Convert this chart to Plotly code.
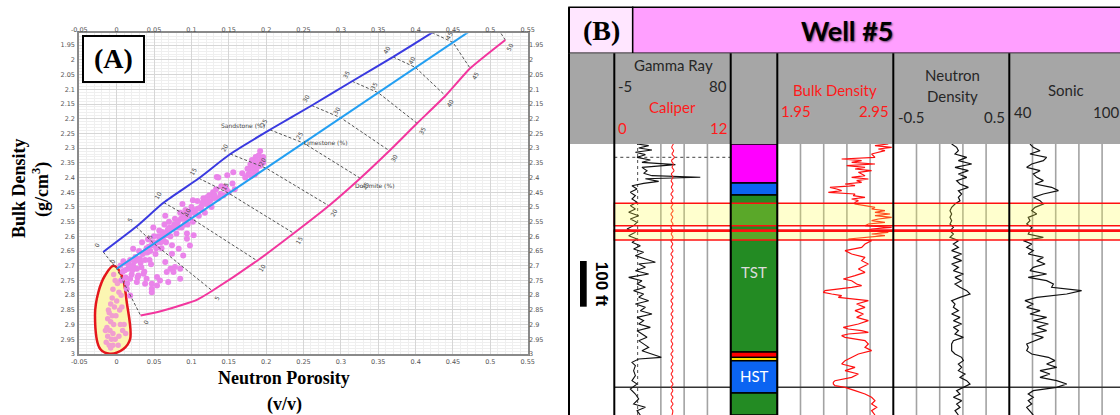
import plotly.graph_objects as go

W, H = 1120, 415


def px(x):
    return x / W


def py(y):
    return 1 - y / H


# ---------------- (A) neutron-density crossplot ----------------
porosity = [0, 5, 10, 15, 20, 25, 30, 35, 40, 45, 50]
sand_nphi = [-0.018, 0.026, 0.063, 0.110, 0.152, 0.205, 0.261, 0.315, 0.370, 0.422, 0.475]
sand_rhob = [2.653, 2.5675, 2.485, 2.4025, 2.32, 2.2375, 2.155, 2.0725, 1.99, 1.9075, 1.825]
lime_nphi = [0.0, 0.05, 0.10, 0.15, 0.20, 0.25, 0.30, 0.35, 0.40, 0.45, 0.50]
lime_rhob = [2.71, 2.6245, 2.539, 2.4535, 2.368, 2.2825, 2.197, 2.1115, 2.026, 1.9405, 1.855]
dolo_nphi = [0.032, 0.128, 0.188, 0.237, 0.284, 0.326, 0.365, 0.402, 0.440, 0.473, 0.520]
dolo_rhob = [2.869, 2.785, 2.683, 2.5895, 2.496, 2.4025, 2.309, 2.2155, 2.122, 2.0285, 1.932]
# low-porosity bend of the dolomite curve
dolo_bend_nphi = [0.055, 0.085, 0.108]
dolo_bend_rhob = [2.857, 2.835, 2.815]

cloud_nphi = [
    0.005, 0.008, 0.010, 0.012, 0.015, 0.018, 0.020, 0.022, 0.006, 0.014,
    0.025, 0.027, 0.030, 0.032, 0.035, 0.037, 0.040, 0.028, 0.034, 0.038,
    0.042, 0.045, 0.047, 0.050, 0.052, 0.055, 0.057, 0.060, 0.044, 0.058, 0.049,
    0.062, 0.064, 0.066, 0.068, 0.070, 0.072, 0.075, 0.078, 0.080, 0.065, 0.074,
    0.082, 0.085, 0.087, 0.090, 0.092, 0.095, 0.097, 0.100, 0.088, 0.094,
    0.102, 0.105, 0.108, 0.110, 0.113, 0.116, 0.118, 0.121, 0.124, 0.127, 0.130, 0.133,
    0.136, 0.140, 0.143, 0.147, 0.150, 0.155, 0.158,
    0.136, 0.148, 0.156, 0.168, 0.129, 0.121, 0.114, 0.102, 0.134, 0.145,
    0.178, 0.180, 0.182, 0.184, 0.186, 0.188, 0.190, 0.192, 0.185, 0.179,
    0.194, 0.190, 0.196, 0.183, 0.187, 0.176, 0.172, 0.196, 0.183, 0.192,
    0.018, 0.027, 0.038, 0.047, 0.054, 0.047, 0.067, 0.072, 0.076, 0.078,
    0.085, 0.069, 0.058, 0.054, 0.085, 0.036, 0.040, 0.029, 0.018, 0.0135,
    0.047, 0.065, 0.083, 0.094, 0.098, 0.103, 0.089, 0.074, 0.022,
    0.011, 0.016, 0.024, 0.031, 0.039, 0.043, 0.051, 0.056, 0.061, 0.067,
    0.071, 0.077, 0.083, 0.089, 0.093, 0.099, 0.106, 0.112, 0.119, 0.125,
    0.009, 0.021, 0.033, 0.046, 0.053, 0.063, 0.073, 0.081, 0.091, 0.104,
    0.017, 0.029, 0.041, 0.048, 0.059, 0.069, 0.079, 0.086, 0.096, 0.109,
    0.115, 0.122, 0.131, 0.139, 0.181, 0.189, 0.175, 0.193, 0.186, 0.180,
]
cloud_rhob = [
    2.70, 2.72, 2.69, 2.74, 2.71, 2.68, 2.73, 2.70, 2.75, 2.76,
    2.67, 2.71, 2.65, 2.69, 2.66, 2.72, 2.64, 2.74, 2.62, 2.68,
    2.61, 2.65, 2.63, 2.60, 2.66, 2.62, 2.58, 2.64, 2.68, 2.61, 2.57,
    2.60, 2.56, 2.62, 2.58, 2.55, 2.60, 2.57, 2.54, 2.59, 2.53, 2.63,
    2.55, 2.52, 2.57, 2.54, 2.51, 2.56, 2.53, 2.50, 2.49, 2.59,
    2.55, 2.51, 2.48, 2.53, 2.50, 2.47, 2.52, 2.49, 2.46, 2.50, 2.47, 2.44,
    2.47, 2.43, 2.46, 2.44, 2.45, 2.42, 2.44,
    2.40, 2.392, 2.382, 2.385, 2.45, 2.467, 2.494, 2.477, 2.398, 2.432,
    2.385, 2.37, 2.36, 2.375, 2.35, 2.365, 2.345, 2.36, 2.39, 2.355,
    2.335, 2.325, 2.35, 2.345, 2.38, 2.39, 2.40, 2.33, 2.365, 2.31,
    2.744, 2.755, 2.761, 2.778, 2.767, 2.79, 2.721, 2.710, 2.721, 2.704,
    2.744, 2.755, 2.75, 2.738, 2.71, 2.727, 2.744, 2.733, 2.801, 2.778,
    2.761, 2.687, 2.642, 2.608, 2.631, 2.596, 2.665, 2.659, 2.642,
    2.715, 2.695, 2.685, 2.675, 2.650, 2.635, 2.625, 2.600, 2.585, 2.595,
    2.570, 2.560, 2.570, 2.525, 2.540, 2.515, 2.525, 2.505, 2.485, 2.480,
    2.685, 2.715, 2.705, 2.695, 2.640, 2.615, 2.575, 2.565, 2.560, 2.520,
    2.700, 2.680, 2.655, 2.620, 2.620, 2.575, 2.565, 2.540, 2.520, 2.505,
    2.485, 2.478, 2.460, 2.455, 2.340, 2.355, 2.370, 2.350, 2.330, 2.395,
]

zone_nphi = [
    -0.004, -0.002, 0.001, -0.005, 0.003, 0.006, -0.006, 0.000, -0.008, -0.003,
    0.004, -0.010, -0.006, -0.001, -0.012, -0.008, -0.004, 0.005, 0.010, -0.013,
    -0.009, -0.005, 0.008, -0.012, -0.007, -0.002, -0.014, -0.010, -0.005, -0.008,
    0.002, 0.012, -0.011, -0.015, 0.007, 0.003,
]
zone_rhob = [
    2.73, 2.75, 2.76, 2.78, 2.79, 2.80, 2.81, 2.82, 2.83, 2.84,
    2.85, 2.86, 2.87, 2.87, 2.88, 2.89, 2.90, 2.90, 2.90, 2.91,
    2.92, 2.93, 2.92, 2.94, 2.95, 2.95, 2.96, 2.97, 2.97, 2.98,
    2.97, 2.93, 2.85, 2.92, 2.84, 2.94,
]
zone_outline_nphi = [-0.004, 0.007, 0.0135, 0.018, 0.009, -0.009, -0.022, -0.029, -0.0245, -0.0156, -0.004]
zone_outline_rhob = [2.700, 2.733, 2.824, 2.949, 2.983, 2.999, 2.983, 2.869, 2.790, 2.733, 2.700]

x_ticks = [-0.05, 0, 0.05, 0.1, 0.15, 0.2, 0.25, 0.3, 0.35, 0.4, 0.45, 0.5, 0.55]
x_ticktext = ["-0.05", "0", "0.05", "0.1", "0.15", "0.2", "0.25", "0.3", "0.35", "0.4", "0.45", "0.5", "0.55"]
y_ticks = [1.95, 2.0, 2.05, 2.1, 2.15, 2.2, 2.25, 2.3, 2.35, 2.4, 2.45, 2.5,
           2.55, 2.6, 2.65, 2.7, 2.75, 2.8, 2.85, 2.9, 2.95, 3.0]
y_ticktext = ["1.95", "2", "2.05", "2.1", "2.15", "2.2", "2.25", "2.3", "2.35", "2.4", "2.45", "2.5",
              "2.55", "2.6", "2.65", "2.7", "2.75", "2.8", "2.85", "2.9", "2.95", "3"]

# ---------------- (B) well log display ----------------
gr_depth = [0, 3.6, 8.8, 13.1, 18.2, 23.3, 29.2, 35.0, 40.1, 45.2, 51.1, 58.4, 64.2, 69.3, 72.9,
            75.9, 81.7, 86.1, 91.2, 98.5, 105.8, 113.1, 120.4, 127.6, 134.9, 142.2, 149.5, 156.8,
            164.1, 171.4, 178.7, 186.0, 193.3, 200.6, 207.9, 215.2, 222.5, 229.8, 237.1, 244.3,
            251.6, 258.9, 262.6, 269.9, 277.2, 284.5, 291.8, 299.1, 306.3, 313.6, 320.9, 328.2,
            335.5, 342.8, 350.1, 357.4, 364.7, 372.0, 379.3, 386.6, 393.9, 401.2, 408.5, 415.8,
            423.0, 430.3, 437.6, 444.9, 452.2, 459.5, 466.8, 470.5, 477.8, 485.1, 496.0, 506.9,
            517.9, 525.2, 536.1, 547.1, 558.0, 568.9, 576.2, 583.5, 593.0]
gr_api = [11.6, 20.1, 12.8, 22.5, 10.4, 17.7, 11.6, 21.3, 15.2, 39.6, 15.2, 18.9, 16.4, 22.5, 57.8,
          17.7, 27.4, 16.4, 7.9, 11.6, 6.7, 10.4, 7.9, 11.6, 6.7, 10.4, 5.5, 12.8,
          6.7, 11.6, 9.1, 4.3, 10.4, 5.5, 11.6, 7.9, 14.0, 9.1, 16.4, 10.4,
          17.7, 25.0, 12.8, 17.7, 10.4, 20.1, 5.5, 15.2, 11.6, 17.7, 9.1, 16.4,
          12.8, 20.1, 10.4, 17.7, 14.0, 22.5, 11.6, 16.4, 12.8, 21.3, 11.6, 15.2,
          18.9, 12.8, 16.4, 20.1, 15.2, 22.5, 29.3, 12.8, 7.9, 10.4, 9.1, 10.4,
          7.9, 11.6, 6.7, 10.4, 12.8, 9.1, 17.7, 11.6, 14.0]

log_depth = [0, 7.3, 14.6, 21.9, 29.2, 36.5, 43.8, 51.1, 58.4, 65.6, 72.9, 80.2, 87.5, 94.8,
             102.1, 109.4, 116.7, 124.0, 131.3, 138.6, 145.9, 153.2, 160.5, 167.8, 175.1,
             182.4, 189.6, 196.9, 204.2, 211.5, 218.8, 226.1, 233.4, 240.7, 248.0, 255.3,
             262.6, 269.9, 277.2, 284.5, 291.8, 299.1, 306.3, 313.6, 320.9, 328.2, 335.5,
             342.8, 350.1, 357.4, 364.7, 372.0, 379.3, 386.6, 393.9, 401.2, 408.5, 415.8,
             423.1, 430.3, 437.6, 444.9, 452.2, 459.5, 466.8, 474.1, 481.4, 488.7, 496.0,
             503.3, 510.6, 517.9, 525.2, 532.5, 539.8, 547.1, 554.3, 561.6, 568.9, 576.2,
             583.5, 593.0]
caliper_in = [6.10, 5.92, 6.12, 5.95, 6.20, 5.90, 6.08, 5.96, 6.15, 5.88,
              6.05, 5.86, 6.04, 5.88, 6.06, 5.84, 6.05, 5.86, 6.04, 5.85,
              6.06, 5.84, 6.03, 5.86, 6.05, 5.84, 6.04, 5.87, 6.05, 5.85,
              6.03, 5.86, 6.05, 5.84, 6.04, 5.86, 6.05, 5.85, 6.04, 5.86,
              6.03, 5.84, 6.05, 5.86, 6.04, 5.85, 6.06, 5.84, 6.03, 5.86,
              6.05, 5.85, 6.04, 5.86, 6.03, 5.84, 6.05, 5.86, 6.04, 5.85,
              6.03, 5.86, 6.05, 5.84, 6.04, 5.86, 6.05, 5.85, 6.03, 5.86,
              6.04, 5.84, 6.05, 5.86, 6.03, 5.85, 6.04, 5.86, 6.05, 5.84,
              6.03, 5.95]
nphi_log = [0.003, 0.046, 0.061, 0.032, 0.133, 0.061, 0.176, 0.032, 0.147, 0.061,
            0.133, 0.046, 0.075, 0.147, 0.061, 0.089, 0.061, 0.075, 0.032, 0.003,
            -0.011, 0.003, -0.011, 0.003, -0.011, 0.018, -0.011, 0.018, -0.011, 0.061,
            0.018, 0.061, 0.003, 0.089, 0.018, 0.089, 0.003, 0.061, 0.018, 0.104,
            0.032, 0.089, 0.032, 0.075, 0.133, 0.161, 0.075, 0.003, 0.032, 0.018,
            0.061, 0.003, 0.075, 0.018, 0.089, 0.018, 0.061, 0.032, 0.104, 0.018,
            0.003, 0.003, 0.003, 0.032, 0.089, 0.104, 0.061, 0.089, 0.061, 0.118,
            0.075, 0.133, 0.161, 0.104, 0.046, 0.075, 0.018, 0.089, 0.046, 0.075,
            0.032, 0.061]
dt_log = [50.7, 52.4, 55.9, 50.7, 59.3, 57.6, 51.6, 49.0, 55.9, 52.4,
          54.2, 57.6, 53.3, 61.9, 65.4, 57.6, 52.4, 55.9, 57.6, 53.3,
          51.6, 54.2, 49.8, 50.7, 49.0, 51.6, 50.7, 49.8, 57.6, 47.3,
          51.6, 49.0, 52.4, 49.8, 57.6, 54.2, 58.5, 52.4, 50.7, 59.3,
          49.8, 59.3, 62.8, 61.9, 77.4, 69.7, 54.2, 48.1, 52.4, 49.0,
          55.9, 50.7, 59.3, 52.4, 60.2, 54.2, 59.3, 51.6, 57.6, 53.3,
          49.0, 49.8, 49.0, 51.6, 60.2, 63.6, 59.3, 64.5, 55.9, 61.0,
          55.9, 64.5, 69.7, 64.5, 52.4, 49.8, 52.4, 49.8, 51.6, 49.0,
          50.7, 52.4]

bd_depth = [0, 3.6, 7.3, 10.9, 14.6, 21.9, 29.2, 32.8, 36.5, 40.1,
            43.8, 47.4, 51.1, 54.7, 58.4, 62.0, 69.3, 72.9, 76.6, 80.2,
            83.9, 87.5, 91.2, 94.8, 98.5, 102.1, 105.8, 109.4, 113.1, 116.7,
            120.4, 124.0, 127.6, 131.3, 134.9, 138.6, 142.2, 145.9, 149.5, 153.2,
            156.8, 160.5, 164.1, 167.8, 171.4, 175.1, 178.7, 182.4, 186.0, 189.6,
            193.3, 196.9, 200.6, 204.2, 207.9, 211.5, 218.8, 226.1, 233.4, 240.7,
            248.0, 255.3, 262.6, 273.5, 280.8, 288.1, 295.4, 299.1, 306.3, 310.0,
            313.6, 320.9, 324.6, 328.2, 331.9, 335.5, 339.2, 342.8, 350.1, 357.4,
            364.7, 372.0, 379.3, 386.6, 393.9, 401.2, 404.8, 408.5, 412.1, 415.8,
            419.4, 423.1, 430.3, 437.6, 444.9, 452.2, 459.5, 466.8, 474.1, 481.4,
            488.7, 496.0, 503.3, 510.6, 517.9, 521.5, 525.2, 528.8, 532.5, 539.8,
            547.1, 554.3, 561.6, 568.9, 576.2, 583.5, 593.0]
bd_rhob = [2.907, 2.792, 2.936, 2.821, 2.878, 2.763, 2.792, 2.505, 2.677, 2.591,
           2.792, 2.548, 2.706, 2.620, 2.763, 2.649, 2.706, 2.591, 2.735, 2.634,
           2.677, 2.534, 2.620, 2.404, 2.462, 2.505, 2.390, 2.620, 2.605, 2.706,
           2.591, 2.649, 2.620, 2.620, 2.706, 2.792, 2.763, 2.878, 2.792, 2.922,
           2.792, 2.936, 2.821, 2.763, 2.878, 2.735, 2.706, 2.936, 2.763, 2.735,
           2.907, 2.763, 2.878, 2.735, 2.562, 2.763, 2.706, 2.677, 2.534, 2.591,
           2.706, 2.677, 2.735, 2.649, 2.706, 2.620, 2.519, 2.591, 2.634, 2.677,
           2.591, 2.361, 2.347, 2.419, 2.505, 2.476, 2.620, 2.735, 2.634, 2.706,
           2.620, 2.692, 2.634, 2.735, 2.649, 2.519, 2.562, 2.677, 2.735, 2.562,
           2.505, 2.534, 2.706, 2.735, 2.706, 2.763, 2.649, 2.591, 2.534, 2.505,
           2.620, 2.534, 2.649, 2.591, 2.447, 2.433, 2.433, 2.447, 2.534, 2.620,
           2.706, 2.763, 2.792, 2.763, 2.807, 2.763, 2.792]

tract_top = [0, 85.3, 111.6, 455.1, 466.9, 474.4, 544.9]
tract_base = [85.3, 111.6, 455.1, 466.9, 474.4, 544.9, 593.0]
tract_color = ["#ff00ff", "#0b64f2", "#238b23", "#ff0000", "#ffe000", "#0b64f2", "#238b23"]
tract_names = ["TST", "HST"]
tract_name_depth = [280.0, 507.7]

band_top = [129.8, 188.2, 191.1]
band_base = [178.8, 191.1, 210.1]

DEPTH_MAX = 593.0

fig = go.Figure()

# yellow-highlighted zone
fig.add_trace(go.Scatter(
    x=zone_outline_nphi, y=zone_outline_rhob, mode="lines", fill="toself",
    fillcolor="#fbf6b2", line=dict(color="#e4161c", width=2.5, shape="spline"),
    hoverinfo="skip", xaxis="x", yaxis="y"))
fig.add_trace(go.Scatter(
    x=cloud_nphi, y=cloud_rhob, mode="markers",
    marker=dict(color="#ea84ea", size=6, line=dict(width=0)), xaxis="x", yaxis="y"))
fig.add_trace(go.Scatter(
    x=zone_nphi, y=zone_rhob, mode="markers",
    marker=dict(color="#f19fcf", size=5.5, line=dict(width=0)), xaxis="x", yaxis="y"))

# iso-porosity connectors
iso_x, iso_y = [], []
for i in range(len(porosity)):
    iso_x += [sand_nphi[i], lime_nphi[i], dolo_nphi[i], None]
    iso_y += [sand_rhob[i], lime_rhob[i], dolo_rhob[i], None]
fig.add_trace(go.Scatter(x=iso_x, y=iso_y, mode="lines",
                         line=dict(color="#555555", width=1, dash="3px,2px"),
                         xaxis="x", yaxis="y"))

fig.add_trace(go.Scatter(x=sand_nphi, y=sand_rhob, mode="lines",
                         line=dict(color="#3a3ae0", width=2, shape="spline", smoothing=0.6),
                         xaxis="x", yaxis="y"))
fig.add_trace(go.Scatter(x=lime_nphi, y=lime_rhob, mode="lines",
                         line=dict(color="#239ff2", width=2), xaxis="x", yaxis="y"))
fig.add_trace(go.Scatter(x=dolo_nphi[:1] + dolo_bend_nphi + dolo_nphi[1:],
                         y=dolo_rhob[:1] + dolo_bend_rhob + dolo_rhob[1:], mode="lines",
                         line=dict(color="#f2369e", width=2, shape="spline", smoothing=0.5),
                         xaxis="x", yaxis="y"))
# carrier for the mirrored top / right tick axes
fig.add_trace(go.Scatter(x=[0.2], y=[2.5], mode="markers", marker=dict(opacity=0),
                         xaxis="x2", yaxis="y2", hoverinfo="skip"))

# ---- log curves ----
fig.add_trace(go.Scatter(x=gr_api, y=gr_depth, mode="lines",
                         line=dict(color="#111111", width=1.1), xaxis="x3", yaxis="y3"))
fig.add_trace(go.Scatter(x=caliper_in, y=log_depth, mode="lines",
                         line=dict(color="#ff2020", width=1.1, shape="spline"),
                         xaxis="x4", yaxis="y3"))
fig.add_trace(go.Scatter(x=bd_rhob, y=bd_depth, mode="lines",
                         line=dict(color="#ff1010", width=1.2), xaxis="x5", yaxis="y3"))
fig.add_trace(go.Scatter(x=nphi_log, y=log_depth, mode="lines",
                         line=dict(color="#111111", width=1.2), xaxis="x6", yaxis="y3"))
fig.add_trace(go.Scatter(x=dt_log, y=log_depth, mode="lines",
                         line=dict(color="#111111", width=1.2), xaxis="x7", yaxis="y3"))

shapes = []
annotations = []


def note(x, y, text, font, xref="paper", yref="paper", xanchor="center", **kw):
    annotations.append(dict(x=x, y=y, xref=xref, yref=yref, text=text, showarrow=False,
                            xanchor=xanchor, yanchor="middle", font=font, **kw))


# ---- (A) decorations ----
small = dict(family="DejaVu Sans", size=6, color="#444444")
for i, p in enumerate(porosity):
    for xs, ys, dx, dy in ((sand_nphi, sand_rhob, -6, 7),
                           (lime_nphi, lime_rhob, -4, 7),
                           (dolo_nphi, dolo_rhob, 5, -7)):
        if ys[i] < 1.925:
            continue
        note(xs[i], ys[i], str(p), small, xref="x", yref="y", textangle=-60,
             xshift=dx, yshift=dy)
note(sand_nphi[5], sand_rhob[5], "Sandstone (%)", small, xref="x", yref="y",
     xanchor="right", xshift=-3, yshift=4)
note(lime_nphi[5], lime_rhob[5], "Limestone (%)", small, xref="x", yref="y",
     xanchor="left", xshift=-2, yshift=0)
note(dolo_nphi[5], dolo_rhob[5], "Dolomite (%)", small, xref="x", yref="y",
     xanchor="left", xshift=-7, yshift=-7)

serif_b = dict(family="Liberation Serif", color="black")
shapes.append(dict(type="rect", xref="paper", yref="paper", x0=px(83), x1=px(144),
                   y0=py(82), y1=py(36), line=dict(color="black", width=2),
                   fillcolor="white", layer="above"))
note(px(113.5), py(59), "<b>(A)</b>", dict(serif_b, size=28))
note(px(19), py(188), "<b>Bulk Density</b>", dict(serif_b, size=18), textangle=-90)
note(px(41), py(190), "<b>(g/cm<sup>3</sup>)</b>", dict(serif_b, size=18), textangle=-90)
note(px(284), py(378), "<b>Neutron Porosity</b>", dict(serif_b, size=18))
note(px(284), py(404), "<b>(v/v)</b>", dict(serif_b, size=18))

# ---- (B) frame ----
header_top, title_top, data_top = 53.3, 7.3, 144.0
borders = [569, 614.3, 730.7, 777.3, 893.3, 1009.3]
shapes.append(dict(type="rect", xref="paper", yref="paper", x0=px(569), x1=px(632.7),
                   y0=py(header_top), y1=py(title_top), fillcolor="#ffe6ff",
                   line=dict(color="black", width=1.5), layer="below"))
shapes.append(dict(type="rect", xref="paper", yref="paper", x0=px(632.7), x1=1.01,
                   y0=py(header_top), y1=py(title_top), fillcolor="#ff9fff",
                   line=dict(color="black", width=1.5), layer="below"))
shapes.append(dict(type="rect", xref="paper", yref="paper", x0=px(569), x1=1.01,
                   y0=py(data_top), y1=py(header_top), fillcolor="#a6a6a6",
                   line=dict(width=0), layer="below"))

# track grid lines
grid_style = dict(color="#a3a3a3", width=1.6)
track_grid = [("x3", [29, 46, 63]), ("x5", [2.15, 2.35, 2.55, 2.75]),
              ("x6", [-0.3, -0.1, 0.1, 0.3]), ("x7", [52, 64, 76, 88])]
for xr, vals in track_grid:
    for v in vals:
        shapes.append(dict(type="line", xref=xr, yref="paper", x0=v, x1=v,
                           y0=0, y1=py(data_top), line=grid_style, layer="below"))
shapes.append(dict(type="line", xref="x3", yref="paper", x0=12, x1=12, y0=0,
                   y1=py(data_top), line=dict(color="#666666", width=1.2, dash="dot"),
                   layer="below"))
shapes.append(dict(type="line", xref="x3", yref="y3", x0=-5, x1=80, y0=29.1, y1=29.1,
                   line=dict(color="#666666", width=1.2, dash="dot"), layer="below"))
shapes.append(dict(type="line", xref="paper", yref="y3", x0=px(614.3), x1=1.0,
                   y0=532.4, y1=532.4, line=dict(color="#333333", width=1.4), layer="below"))

# systems tracts column
for t, b, c in zip(tract_top, tract_base, tract_color):
    shapes.append(dict(type="rect", xref="x8", yref="y3", x0=0, x1=1, y0=t, y1=b,
                       fillcolor=c, line=dict(color="black", width=1.4), layer="above"))
for name, d, col in zip(tract_names, tract_name_depth, ["#dcdcdc", "#ffffff"]):
    note(0.5, d, name, dict(family="Lato", size=15, color=col), xref="x8", yref="y3")

# highlighted intervals
for t, b in zip(band_top, band_base):
    shapes.append(dict(type="rect", xref="paper", yref="y3", x0=px(614.3), x1=1.01,
                       y0=t, y1=b, fillcolor="rgba(255,255,60,0.25)",
                       line=dict(color="#ff1010", width=1.5), layer="above"))

# track borders
for bx in borders:
    shapes.append(dict(type="line", xref="paper", yref="paper", x0=px(bx), x1=px(bx),
                       y0=0, y1=py(header_top), line=dict(color="black", width=2),
                       layer="above"))
shapes.append(dict(type="line", xref="paper", yref="paper", x0=px(569), x1=px(569),
                   y0=py(header_top), y1=py(title_top), line=dict(color="black", width=2),
                   layer="above"))

# depth scale bar (100 ft)
shapes.append(dict(type="rect", xref="paper", yref="y3", x0=px(580), x1=px(586.7),
                   y0=256, y1=356, fillcolor="black", line=dict(width=0), layer="above"))
note(px(601), 306, "<b>100 ft</b>", dict(family="Liberation Sans", size=17, color="black"),
     yref="y3", textangle=90)

note(px(601), py(31), "<b>(B)</b>", dict(serif_b, size=28))
note(px(846.5), py(31), "<b>Well #5</b>",
     dict(family="Lato", size=27, color="black", shadow="1px 1px 2px rgba(0,0,0,0.55)"))

hdr = dict(family="Lato", size=15, color="#262626")
hdr_red = dict(family="Lato", size=15, color="#ff1a1a")
header_text = [
    ("Gamma Ray", 673, 65, "center", hdr),
    ("-5", 616, 86, "left", hdr),
    ("80", 729, 86, "right", hdr),
    ("Caliper", 672, 107, "center", hdr_red),
    ("0", 615.5, 128, "left", hdr_red),
    ("12", 729, 128, "right", hdr_red),
    ("Bulk Density", 835, 90, "center", hdr_red),
    ("1.95", 779, 111, "left", hdr_red),
    ("2.95", 891, 111, "right", hdr_red),
    ("Neutron", 952, 75, "center", hdr),
    ("Density", 952, 96, "center", hdr),
    ("-0.5", 895.5, 117, "left", hdr),
    ("0.5", 1007, 117, "right", hdr),
    ("Sonic", 1066, 90, "center", hdr),
    ("40", 1011.5, 112, "left", hdr),
    ("100", 1121, 112, "right", hdr),
]
for txt, x, y, anc, f in header_text:
    note(px(x), py(y), txt, f, xanchor=anc)

tick_font = dict(family="DejaVu Sans", size=6.5, color="#555555")
a_dom_x = [px(79.3), px(527.7)]
a_dom_y = [py(354), py(33.3)]
y_range = [3.0, 1.9095]
common_x = dict(range=[-0.05, 0.55], tickvals=x_ticks, ticktext=x_ticktext, tickfont=tick_font,
                zeroline=False, ticks="inside", ticklen=1, tickcolor="rgba(0,0,0,0)",
                showline=True, linecolor="#8a8a8a", linewidth=2, mirror=True, automargin=False)
common_y = dict(range=y_range, tickvals=y_ticks, ticktext=y_ticktext, tickfont=tick_font,
                zeroline=False, ticks="inside", ticklen=1, tickcolor="rgba(0,0,0,0)",
                showline=True, linecolor="#8a8a8a", linewidth=2, mirror=True, automargin=False)
hidden = dict(visible=False, showgrid=False, zeroline=False, automargin=False)

fig.update_layout(
    width=W, height=H, margin=dict(l=0, r=0, t=0, b=0, pad=0, autoexpand=False),
    paper_bgcolor="white", plot_bgcolor="rgba(0,0,0,0)", showlegend=False,
    xaxis=dict(common_x, domain=a_dom_x, anchor="y", showgrid=True, gridcolor="#d6d6d6",
               gridwidth=1, minor=dict(dtick=0.01, showgrid=True, gridcolor="#efefef"),
               ticklabelstandoff=0),
    yaxis=dict(common_y, domain=a_dom_y, anchor="x", showgrid=True, gridcolor="#d6d6d6",
               gridwidth=1, minor=dict(dtick=0.01, showgrid=True, gridcolor="#efefef"),
               ticklabelstandoff=1),
    xaxis2=dict(common_x, overlaying="x", side="top", anchor="y2", showgrid=False,
                ticklabelstandoff=-3),
    yaxis2=dict(common_y, overlaying="y", side="right", anchor="x2", showgrid=False,
                ticklabelstandoff=-2),
    xaxis3=dict(hidden, domain=[px(614.3), px(730.7)], range=[-5, 80], anchor="y3"),
    xaxis4=dict(hidden, range=[0, 12], overlaying="x3", anchor="y3"),
    xaxis5=dict(hidden, domain=[px(777.3), px(893.3)], range=[1.95, 2.95], anchor="y3"),
    xaxis6=dict(hidden, domain=[px(893.3), px(1009.3)], range=[-0.5, 0.5], anchor="y3"),
    xaxis7=dict(hidden, domain=[px(1009.3), 1.0], range=[40, 40 + 60 * (1120 - 1009.3) / 116],
                anchor="y3"),
    xaxis8=dict(hidden, domain=[px(730.7), px(777.3)], range=[0, 1], anchor="y3"),
    yaxis3=dict(hidden, domain=[0, py(data_top)], range=[DEPTH_MAX, 0], anchor="x3"),
    shapes=shapes,
    annotations=annotations,
)

fig.write_html("out.html")
